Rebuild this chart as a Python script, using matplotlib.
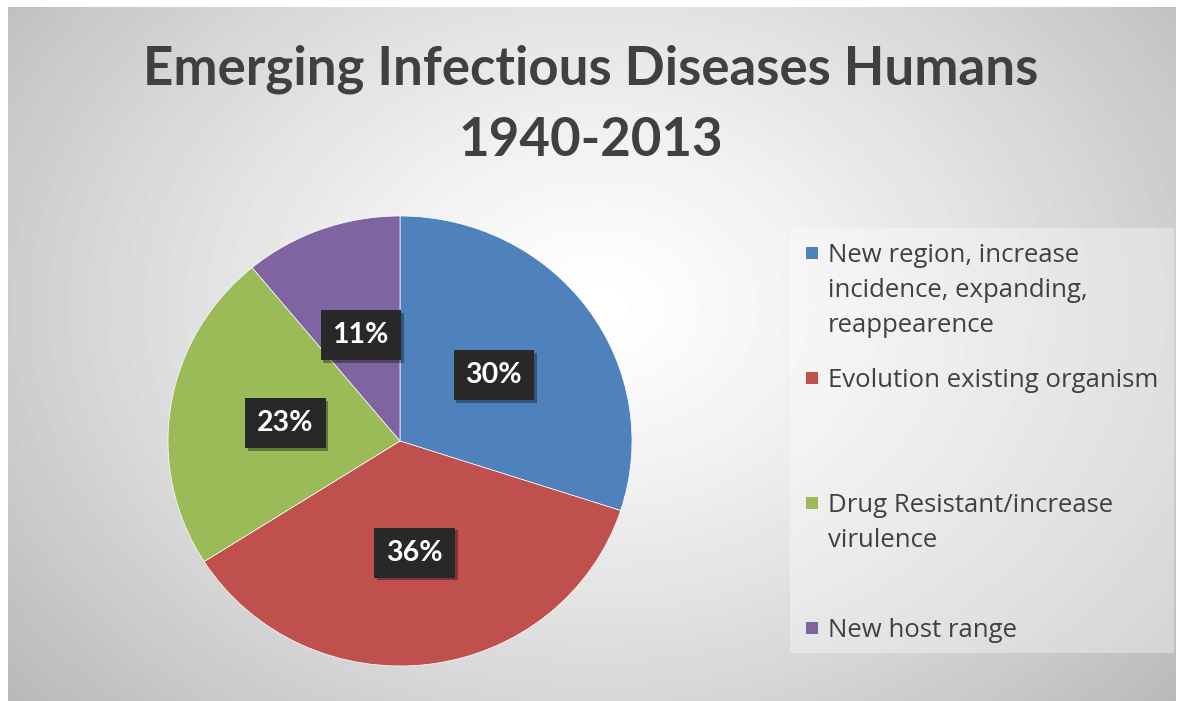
import matplotlib.pyplot as plt
import matplotlib.patheffects as pe
from matplotlib.patches import Rectangle
import numpy as np

title = "Emerging Infectious Diseases Humans\n1940-2013"
labels = ["New region, increase\nincidence, expanding,\nreappearence",
          "Evolution existing organism",
          "Drug Resistant/increase\nvirulence",
          "New host range"]
shares = [30, 36, 23, 11]
colors = ["#4f81bd", "#c0504d", "#9bbb59", "#8064a2"]

W, H = 1181, 701
fig = plt.figure(figsize=(W / 100, H / 100), dpi=100)
fig.patch.set_facecolor("white")

# radial gradient chart background
bg = fig.add_axes([8 / W, 0, (1176 - 8) / W, (H - 7) / H])
bg.set_axis_off()
yy, xx = np.mgrid[0:694, 0:1168]
d = np.sqrt(((xx - 590) / 720.0) ** 2 + ((yy - 300) / 560.0) ** 2)
shade = np.clip(1.0 - 0.25 * d ** 1.3, 0, 1)
bg.imshow(shade, cmap="gray", vmin=0, vmax=1, aspect="auto",
          extent=[0, 1, 0, 1], origin="upper")
bg.set_xlim(0, 1)
bg.set_ylim(0, 1)

fig.text(591 / W, 1 - 105 / H, title, ha="center", va="center",
         fontsize=38, fontweight="bold", family="Lato", color="#404040",
         linespacing=1.55)

# pie
ax = fig.add_axes([168 / W, (H - 666) / H, 464 / W, 450 / H])
ax.set_axis_off()
wedges, texts, autotexts = ax.pie(
    shares, colors=colors, startangle=90, counterclock=False,
    autopct="%d%%", pctdistance=0.5,
    wedgeprops=dict(edgecolor="white", linewidth=0.5),
    textprops=dict(color="white", fontsize=20.5, fontweight="bold", family="Lato"))
ax.set_aspect("auto")
ax.set_xlim(-1, 1)
ax.set_ylim(-1, 1)
for t in autotexts:
    t.set_bbox(dict(boxstyle="square,pad=0.42", facecolor="#282828", edgecolor="none"))
    t.get_bbox_patch().set_path_effects(
        [pe.SimplePatchShadow(offset=(2, -2), shadow_rgbFace="black", alpha=0.35), pe.Normal()])

# legend
fig.patches.append(Rectangle((790 / W, 1 - 653 / H), (1174 - 790) / W, (653 - 228) / H,
                             transform=fig.transFigure, facecolor="white",
                             alpha=0.35, edgecolor="none"))
for i, (lab, col) in enumerate(zip(labels, colors)):
    yc = 253 + i * 125
    fig.patches.append(Rectangle((806 / W, 1 - (yc + 6) / H), 12 / W, 12 / H,
                                 transform=fig.transFigure, facecolor=col,
                                 edgecolor="none"))
    fig.text(828 / W, 1 - (yc - 10) / H, lab, ha="left", va="top",
             fontsize=18.5, family="Open Sans", color="#404040", linespacing=1.52)

fig.savefig("out.png", dpi=100)
